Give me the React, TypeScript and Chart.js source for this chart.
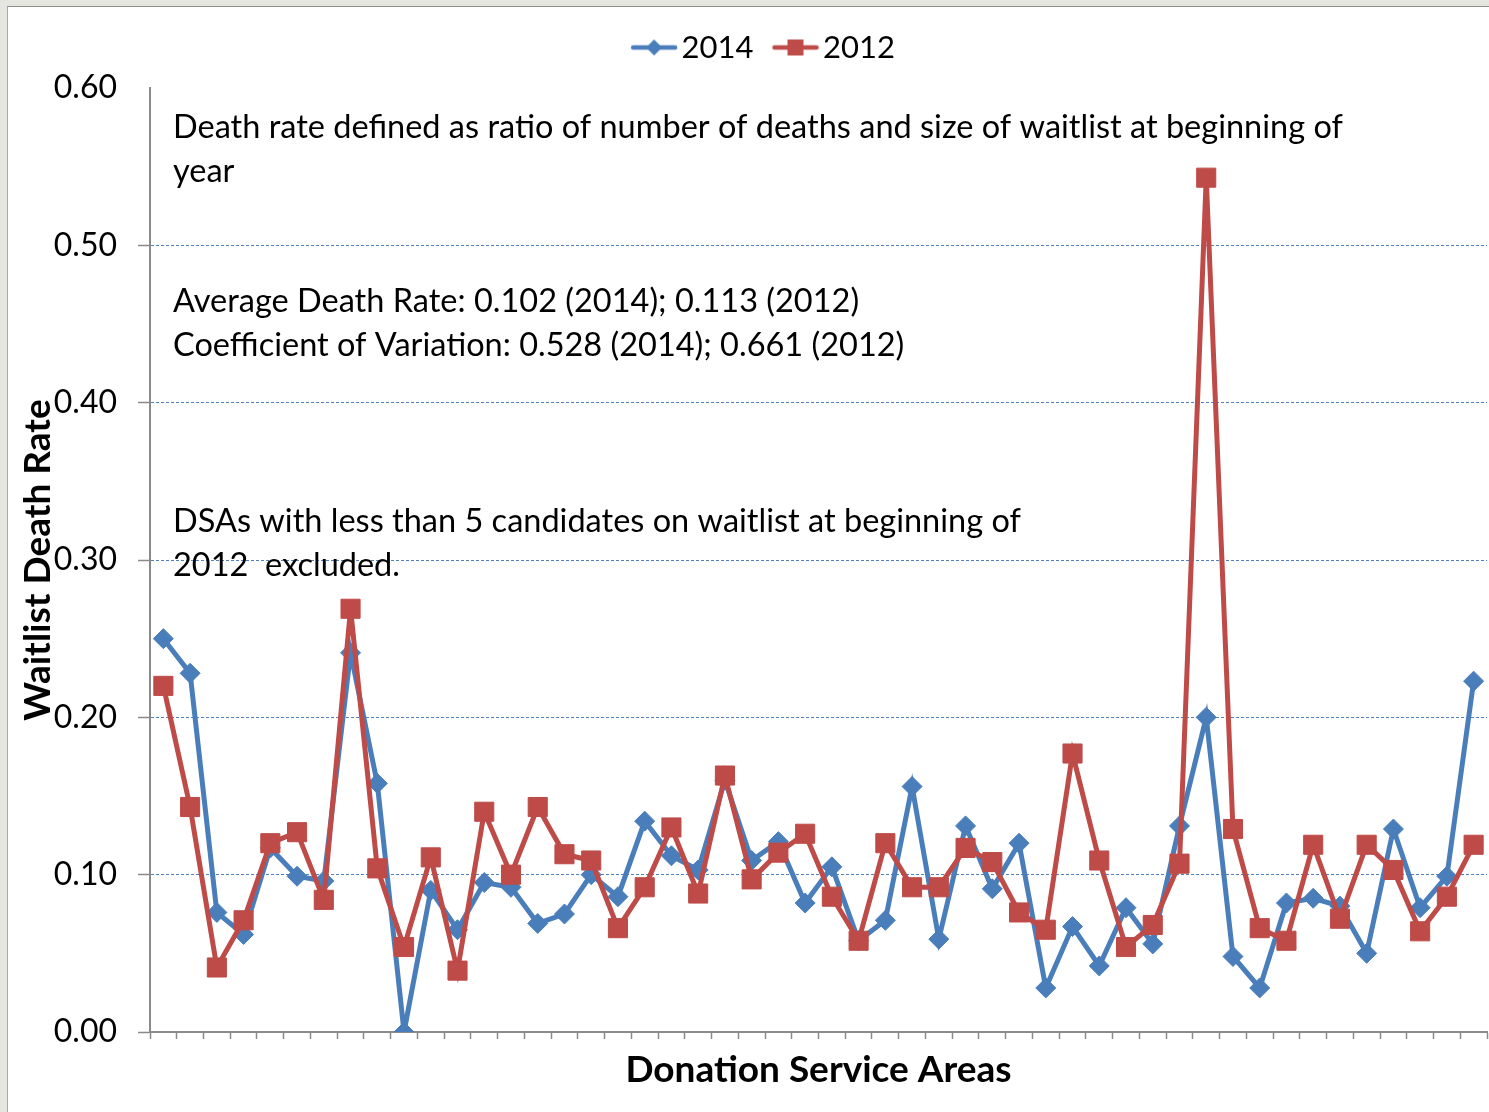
import React, { useEffect, useRef } from "react";
import { Chart, registerables } from "chart.js";

Chart.register(...registerables);

// ---- data ----
const rate2014 = [
  0.250, 0.228, 0.076, 0.062, 0.117, 0.099, 0.096, 0.241, 0.158, 0.000,
  0.090, 0.065, 0.095, 0.092, 0.069, 0.075, 0.100, 0.086, 0.134, 0.112,
  0.103, 0.160, 0.109, 0.121, 0.082, 0.105, 0.058, 0.071, 0.156, 0.059,
  0.131, 0.091, 0.120, 0.028, 0.067, 0.042, 0.079, 0.056, 0.131, 0.200,
  0.048, 0.028, 0.082, 0.085, 0.080, 0.050, 0.129, 0.079, 0.099, 0.223,
];

const rate2012 = [
  0.220, 0.143, 0.041, 0.071, 0.120, 0.127, 0.084, 0.269, 0.104, 0.054,
  0.111, 0.039, 0.140, 0.100, 0.143, 0.113, 0.109, 0.066, 0.092, 0.130,
  0.088, 0.163, 0.097, 0.114, 0.126, 0.086, 0.058, 0.120, 0.092, 0.092,
  0.117, 0.108, 0.076, 0.065, 0.177, 0.109, 0.054, 0.068, 0.107, 0.543,
  0.129, 0.066, 0.058, 0.119, 0.072, 0.119, 0.103, 0.064, 0.086, 0.119,
];

const dsaLabels = rate2014.map((_, i) => `DSA ${i + 1}`);
const seriesNames = ["2014", "2012"];
const yMin = 0;
const yMax = 0.6;
const yStep = 0.1;
const yTitle = "Waitlist Death Rate";
const xTitle = "Donation Service Areas";

const noteLines = [
  "Death rate defined as ratio of number of deaths and size of waitlist at beginning of",
  "year",
  "Average Death Rate: 0.102 (2014); 0.113 (2012)",
  "Coefficient of Variation: 0.528 (2014); 0.661 (2012)",
  "DSAs with less than 5 candidates on waitlist at beginning of",
  "2012  excluded.",
];
const noteOffsets = [40, 84, 214, 258, 434, 478];

// ---- styles ----
const BLUE = "#4a7ebb";
const RED = "#be4b48";
const AXIS_GRAY = "#8a8a8a";
const GRID_BLUE = "#4f81bd";
const FONT = "Lato";

function legendGlyph(color: string, shape: "diamond" | "square") {
  const c = document.createElement("canvas");
  c.width = 78;
  c.height = 24;
  const g = c.getContext("2d")!;
  const cy = 12;
  g.strokeStyle = color;
  g.lineWidth = 4.5;
  g.lineCap = "round";
  g.beginPath();
  g.moveTo(33, cy);
  g.lineTo(75, cy);
  g.stroke();
  const mx = 54;
  g.fillStyle = color;
  if (shape === "diamond") {
    g.beginPath();
    g.moveTo(mx - 8, cy);
    g.lineTo(mx, cy - 8);
    g.lineTo(mx + 8, cy);
    g.lineTo(mx, cy + 8);
    g.closePath();
    g.fill();
  } else {
    g.fillRect(mx - 8, cy - 8, 16, 16);
  }
  return c;
}

const legendSpacer = {
  id: "legendSpacer",
  beforeLayout(chart: any) {
    const lg = chart.legend;
    if (lg && !lg.__spaced) {
      lg.__spaced = true;
      const origFit = lg.fit.bind(lg);
      lg.fit = function () {
        origFit();
        this.height += 15;
      };
    }
  },
};

const notesPlugin = {
  id: "notes",
  afterDraw(chart: any) {
    const { ctx, chartArea } = chart;
    ctx.save();
    ctx.fillStyle = "#000";
    ctx.font = `32.5px ${FONT}`;
    ctx.textBaseline = "middle";
    ctx.textAlign = "left";
    noteLines.forEach((line, i) => {
      ctx.fillText(line, chartArea.left + 23, chartArea.top + noteOffsets[i]);
    });
    ctx.restore();
  },
};

const isAt = (v: number, t: number) => Math.abs(v - t) < 1e-9;

export default function App() {
  const canvasRef = useRef<HTMLCanvasElement | null>(null);

  useEffect(() => {
    if (!canvasRef.current) return;
    const glyphs = [legendGlyph(BLUE, "diamond"), legendGlyph(RED, "square")];
    const chart = new Chart(canvasRef.current, {
      type: "line",
      data: {
        labels: dsaLabels,
        datasets: [
          {
            label: seriesNames[0],
            data: rate2014,
            borderColor: BLUE,
            backgroundColor: BLUE,
            borderWidth: 5,
            pointStyle: "rectRot",
            pointRadius: 10,
            pointHoverRadius: 10,
            pointBorderWidth: 1,
            pointBorderColor: BLUE,
            pointBackgroundColor: BLUE,
            tension: 0,
            order: 1,
          },
          {
            label: seriesNames[1],
            data: rate2012,
            borderColor: RED,
            backgroundColor: RED,
            borderWidth: 5,
            pointStyle: "rect",
            pointRadius: 13.5,
            pointHoverRadius: 13.5,
            pointBorderWidth: 1,
            pointBorderColor: RED,
            pointBackgroundColor: RED,
            tension: 0,
            order: 0,
          },
        ],
      },
      options: {
        animation: false,
        responsive: true,
        maintainAspectRatio: false,
        layout: { autoPadding: false, padding: { top: 25, left: 12, right: 2, bottom: 0 } },
        plugins: {
          tooltip: { enabled: false },
          legend: {
            position: "top",
            align: "center",
            labels: {
              usePointStyle: true,
              pointStyleWidth: 54,
              padding: 0,
              color: "#000",
              font: { family: FONT, size: 31 },
              sort: (a: any, b: any) => a.datasetIndex - b.datasetIndex,
              generateLabels: (c: any) => {
                const items = (Chart as any).defaults.plugins.legend.labels.generateLabels(c);
                return items.map((it: any) => ({ ...it, pointStyle: glyphs[it.datasetIndex] }));
              },
            },
          },
        },
        scales: {
          x: {
            type: "category",
            offset: true,
            afterFit: (s: any) => {
              s.height = 80;
            },
            grid: {
              display: true,
              offset: true,
              drawOnChartArea: false,
              drawTicks: true,
              tickLength: 7,
              tickColor: AXIS_GRAY,
              tickWidth: 1.5,
            },
            border: { display: true, color: AXIS_GRAY, width: 2 },
            ticks: { display: false },
            title: {
              display: true,
              text: xTitle,
              color: "#000",
              font: { family: FONT, size: 37, weight: "bold", lineHeight: 1 },
              padding: { top: 0, bottom: 23.5 },
            },
          },
          y: {
            type: "linear",
            min: yMin,
            max: yMax,
            afterFit: (s: any) => {
              s.width = 130;
            },
            ticks: {
              stepSize: yStep,
              padding: 21,
              color: "#000",
              font: { family: FONT, size: 32 },
              callback: (v: any) => Number(v).toFixed(2),
            },
            grid: {
              color: (ctx: any) =>
                ctx.tick && (isAt(ctx.tick.value, yMax) || isAt(ctx.tick.value, yMin))
                  ? "rgba(0,0,0,0)"
                  : GRID_BLUE,
              lineWidth: 1,
              tickColor: (ctx: any) =>
                ctx.tick && isAt(ctx.tick.value, yMax) ? "rgba(0,0,0,0)" : AXIS_GRAY,
              tickLength: 12,
              tickWidth: 1.5,
            },
            border: { display: true, color: AXIS_GRAY, width: 2, dash: [3, 2] },
            title: {
              display: true,
              text: yTitle,
              color: "#000",
              font: { family: FONT, size: 37, weight: "bold", lineHeight: 1 },
              padding: { top: 0, bottom: 0 },
            },
          },
        },
      } as any,
      plugins: [legendSpacer, notesPlugin],
    });
    return () => chart.destroy();
  }, []);

  return (
    <div style={{ position: "fixed", inset: 0, background: "#e6e6e0" }}>
      <div
        style={{
          position: "absolute",
          left: 7,
          top: 6,
          right: 0,
          bottom: 0,
          background: "#fff",
          borderLeft: "1px solid #a8a8a8",
          borderTop: "1px solid #8c8c8c",
        }}
      >
        <div style={{ position: "relative", width: 1481, height: 1105 }}>
          <canvas ref={canvasRef} />
        </div>
      </div>
    </div>
  );
}
